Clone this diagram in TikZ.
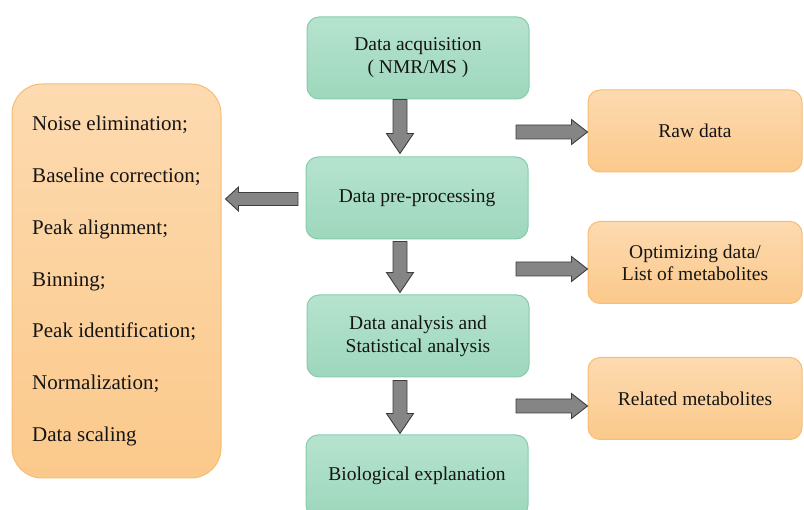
\documentclass[tikz,border=0pt]{standalone}
\usepackage{fontspec}
\setmainfont{Liberation Serif}
\newfontfamily\labelface{Liberation Serif}
\usetikzlibrary{calc}
\definecolor{mintfillA}{HTML}{B6E3CF}
\definecolor{mintfillB}{HTML}{9DD7BC}
\definecolor{mintline}{HTML}{86CDAB}
\definecolor{peachA}{HTML}{FDDAB0}
\definecolor{peachB}{HTML}{FBC98B}
\definecolor{peachline}{HTML}{F8BD72}
\definecolor{arrowfill}{HTML}{858585}
\definecolor{arrowline}{HTML}{3E3E3E}
\definecolor{inktext}{HTML}{151515}
\tikzset{
  stepbox/.style={draw=mintline, line width=1pt, rounded corners=12pt,
    top color=mintfillA, bottom color=mintfillB,
    minimum width=222pt, minimum height=82pt, align=center,
    font=\labelface\fontsize{19.5}{23}\selectfont, text=inktext},
  resultbox/.style={draw=peachline, line width=1pt, rounded corners=12pt,
    top color=peachA, bottom color=peachB,
    minimum width=214pt, minimum height=82pt, align=center,
    font=\labelface\fontsize{19.5}{22}\selectfont, text=inktext},
  listbox/.style={draw=peachline, line width=1pt, rounded corners=30pt,
    top color=peachA, bottom color=peachB,
    minimum width=209pt, minimum height=394pt, align=left,
    font=\labelface\fontsize{21}{51.7}\selectfont, text=inktext},
  blockarrow/.style={fill=arrowfill, draw=arrowline, line width=0.9pt, line join=miter}
}
% block arrow pointing down: #1 top of shaft, #2 tip
\newcommand\blockdown[2]{%
  \draw[blockarrow] let \p1=(#1), \p2=(#2) in
    (\x1-7pt,\y1) -- (\x1-7pt,\y2+20pt) -- (\x1-13.5pt,\y2+20pt) -- (\x1,\y2)
    -- (\x1+13.5pt,\y2+20pt) -- (\x1+7pt,\y2+20pt) -- (\x1+7pt,\y1) -- cycle;}
% block arrow pointing right: #1 tail of shaft, #2 tip
\newcommand\blockright[2]{%
  \draw[blockarrow] let \p1=(#1), \p2=(#2) in
    (\x1,\y1+7pt) -- (\x2-16pt,\y1+7pt) -- (\x2-16pt,\y1+12.5pt) -- (\x2,\y1)
    -- (\x2-16pt,\y1-12.5pt) -- (\x2-16pt,\y1-7pt) -- (\x1,\y1-7pt) -- cycle;}
% block arrow pointing left: #1 tail of shaft, #2 tip
\newcommand\blockleft[2]{%
  \draw[blockarrow] let \p1=(#1), \p2=(#2) in
    (\x1,\y1+6.5pt) -- (\x2+13pt,\y1+6.5pt) -- (\x2+13pt,\y1+12pt) -- (\x2,\y1)
    -- (\x2+13pt,\y1-12pt) -- (\x2+13pt,\y1-6.5pt) -- (\x1,\y1-6.5pt) -- cycle;}
\begin{document}
\begin{tikzpicture}[x=1pt,y=-1pt]
\useasboundingbox (0,0) rectangle (804,510);

% main workflow
\node[stepbox] (acq)  at (418,58)  {Data acquisition\\( NMR/MS )};
\node[stepbox] (pre)  at (417,198) {Data pre-processing};
\node[stepbox] (ana)  at (418,336) {Data analysis and\\Statistical analysis};
\node[stepbox] (bio)  at (417,476) {Biological explanation};

% outputs
\node[resultbox] (raw) at (695,131)   {Raw data};
\node[resultbox] (opt) at (695,262.5) {Optimizing data/\\List of metabolites};
\node[resultbox] (rel) at (695,398.5) {Related metabolites};

% pre-processing steps
\node[listbox] (steps) at (116.5,281) {Noise elimination;\\Baseline correction;\\Peak alignment;\\Binning;\\Peak identification;\\Normalization;\\Data scaling};

% arrow anchors
\coordinate (ax) at (400,0);
\coordinate (r1) at (516,132);
\coordinate (r2) at (516,269);
\coordinate (r3) at (516,406);
\coordinate (l1) at (298,199);

\blockdown{acq.south -| ax}{$(pre.north -| ax)+(0,-3)$}
\blockdown{$(pre.south -| ax)+(0,2)$}{$(ana.north -| ax)+(0,-2)$}
\blockdown{$(ana.south -| ax)+(0,3)$}{$(bio.north -| ax)+(0,-1)$}

\blockright{r1}{r1 -| raw.west}
\blockright{r2}{r2 -| opt.west}
\blockright{r3}{r3 -| rel.west}

\blockleft{l1}{$(l1 -| steps.east)+(4,0)$}
\end{tikzpicture}
\end{document}
